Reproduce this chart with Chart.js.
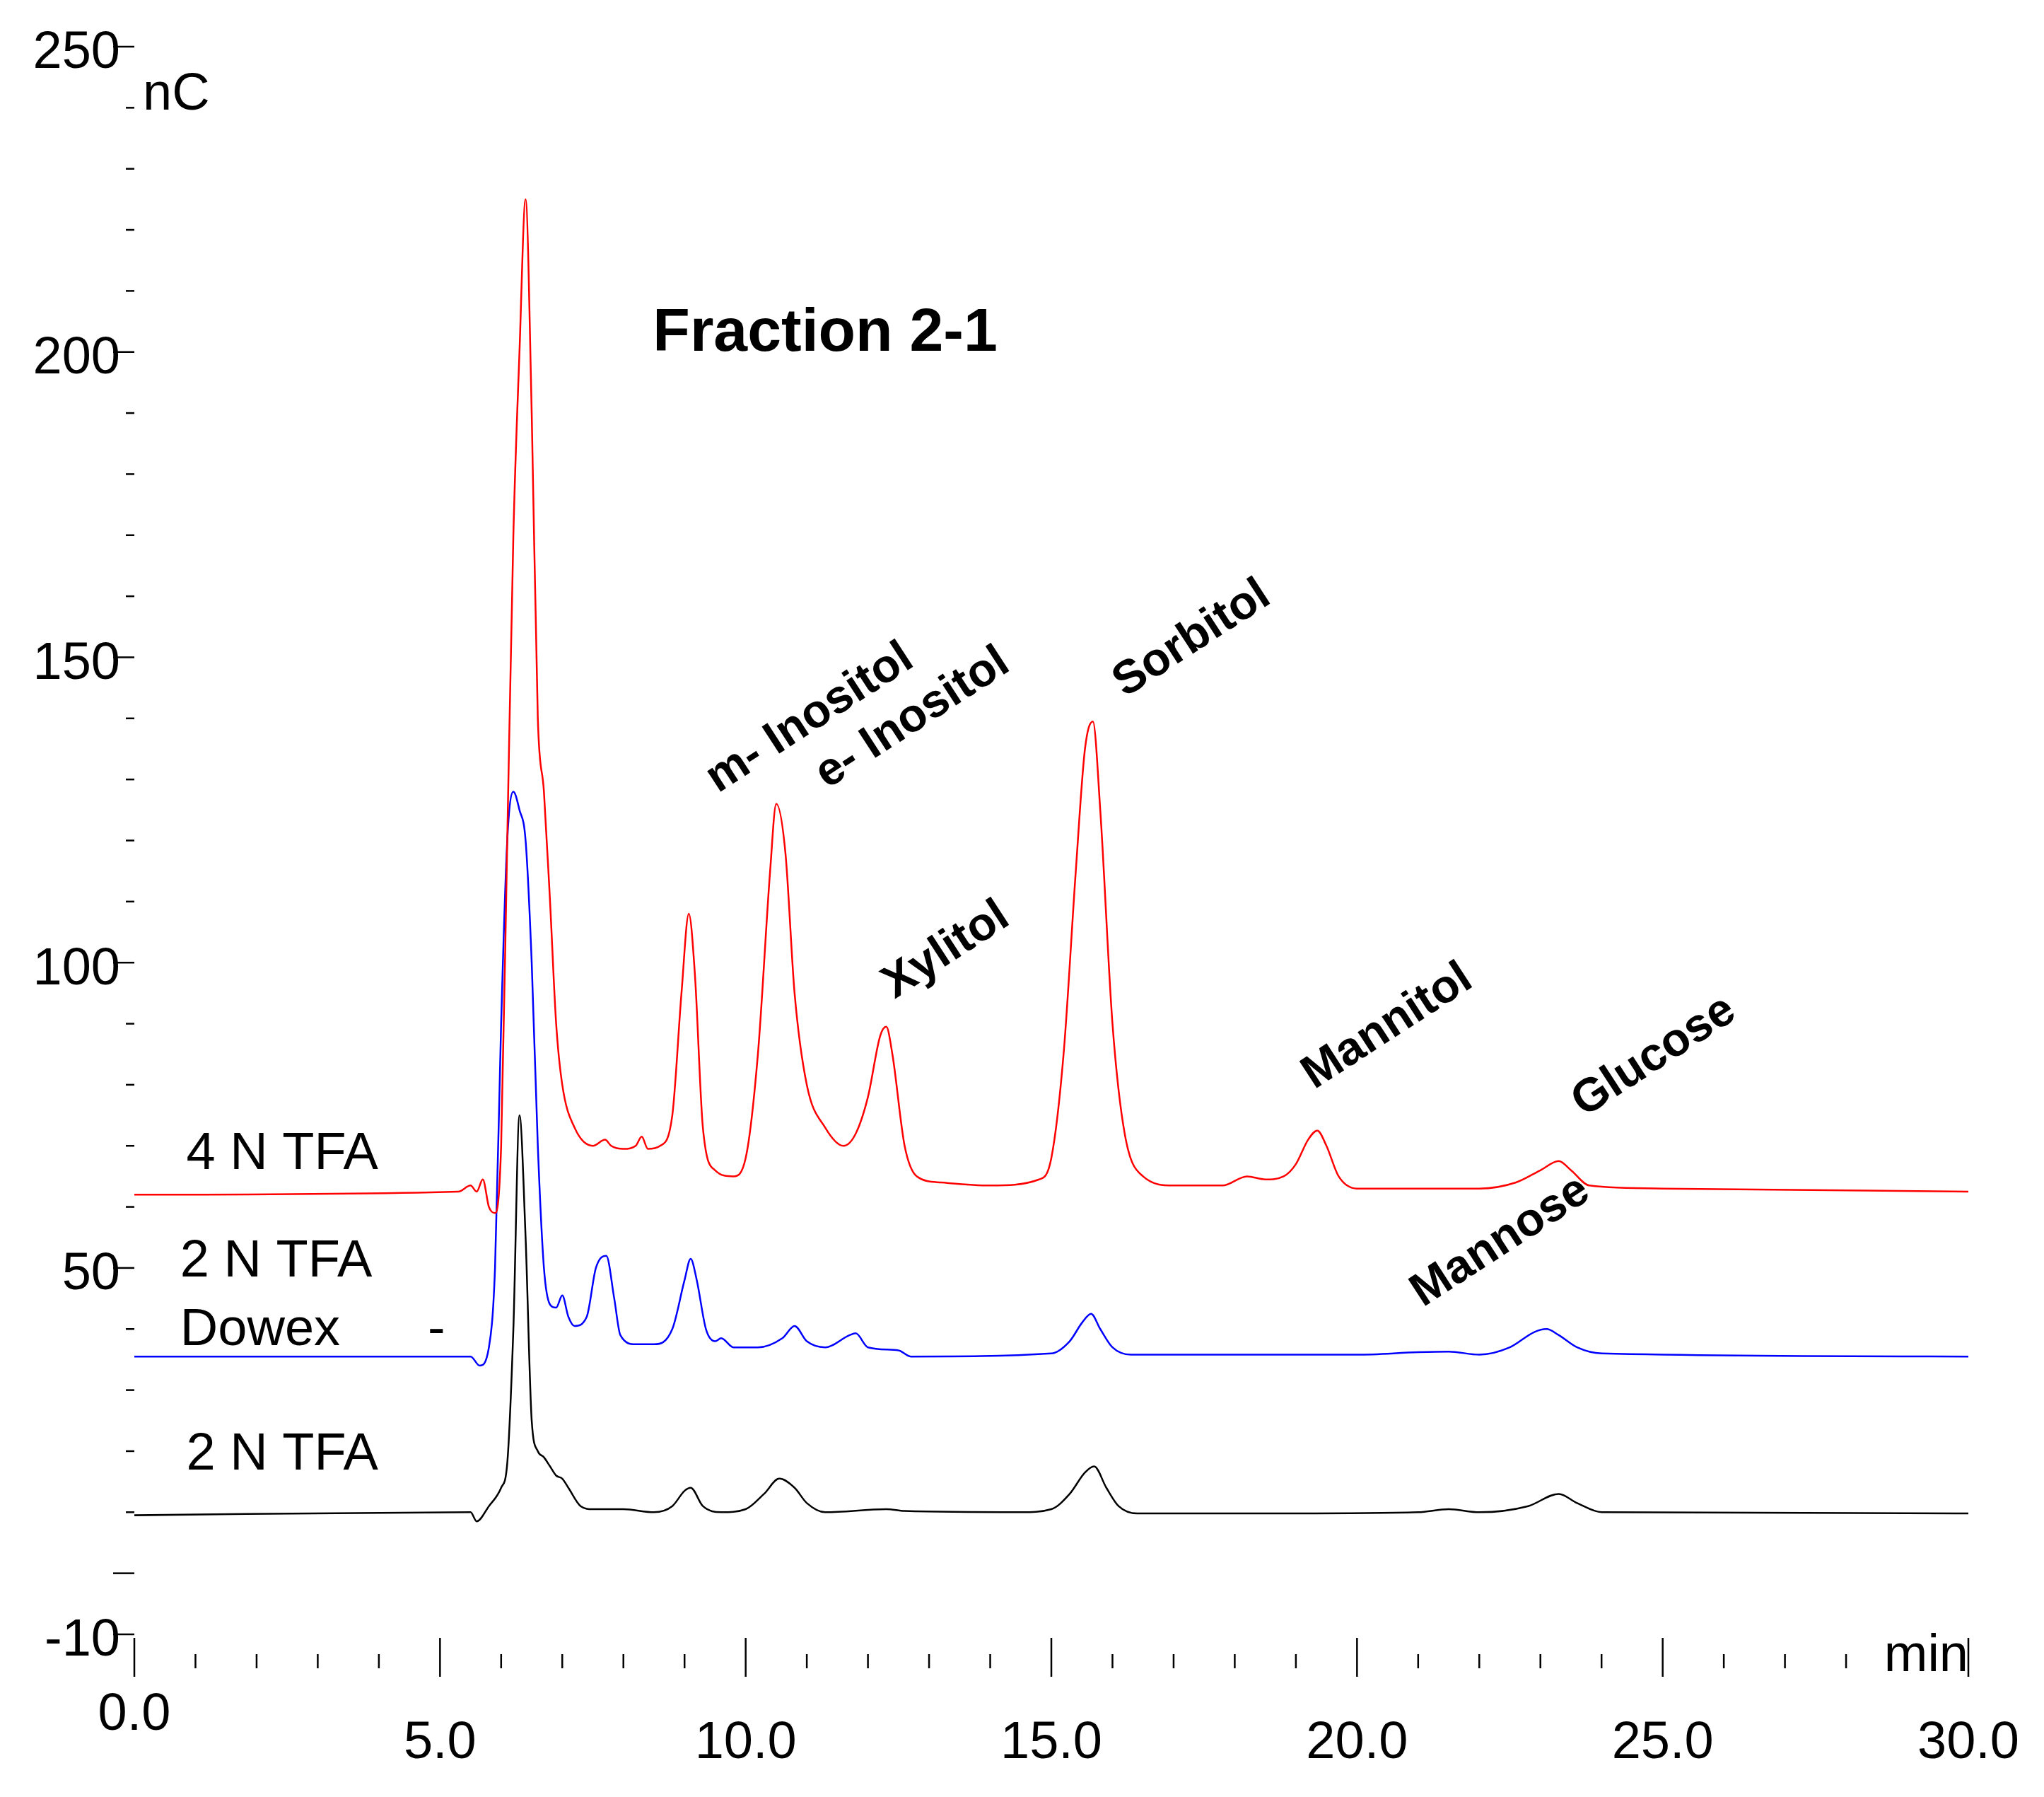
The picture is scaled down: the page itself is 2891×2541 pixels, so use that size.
<!DOCTYPE html>
<html><head><meta charset="utf-8">
<script src="https://cdn.jsdelivr.net/npm/chart.js@4/dist/chart.umd.min.js"></script>
<style>html,body{margin:0;padding:0;background:#fff}#w{width:2891px;height:2541px}</style>
</head><body><div id="w"><canvas id="c"></canvas></div>
<script>
const redX=[0,5.3,5.5,5.6,5.7,5.8,5.9,6.0,6.1,6.2,6.3,6.4,6.5,6.6,6.7,6.8,6.9,7.0,7.2,7.5,7.7,7.8,8.0,8.2,8.3,8.4,8.6,8.8,8.95,9.07,9.17,9.3,9.5,9.8,10.0,10.2,10.4,10.5,10.65,10.8,11.0,11.3,11.6,11.8,12.0,12.2,12.3,12.4,12.6,12.8,13.2,14.0,14.8,15.0,15.2,15.4,15.55,15.68,15.8,16.0,16.2,16.5,17.0,17.8,18.2,18.5,18.8,19.0,19.2,19.35,19.5,19.7,20.0,22.0,22.6,23.0,23.3,23.5,23.8,25.0,30.0];
const redY=[62,62.5,63.5,62.5,64.5,60,59,70,120,170,200,225,190,140,128,110,90,80,73,70,71,70,69.5,70,71.5,69.5,70,75,95,108,98,73,66,65,68,85,115,126,118,95,80,73,70,72,78,88,89.5,85,70,65,64,63.5,64.5,68,85,115,135,139.5,125,90,72,65,63.5,63.5,65,64.5,65,67,71,72.5,70,65,63,63,64,66,67.5,66,63.5,63,62.5];
const blueX=[0,5.5,5.65,5.8,5.9,6.0,6.1,6.2,6.3,6.4,6.5,6.6,6.7,6.8,6.9,7.0,7.1,7.2,7.4,7.55,7.72,7.85,7.95,8.2,8.5,8.8,9.0,9.1,9.2,9.35,9.5,9.6,9.8,10.2,10.6,10.8,11.0,11.3,11.7,11.8,12.0,12.5,12.7,15.0,15.3,15.5,15.65,15.8,16.0,16.3,20.0,21.0,21.5,22.0,22.5,22.9,23.1,23.3,23.6,24.0,30.0];
const blueY=[35.5,35.5,34,37,50,90,120,128,125,120,100,70,50,44,43.5,45.5,42,40.5,42,50,52,45,39,37.5,37.5,40,48,51.5,48,40,38,38.5,37,37,38.5,40.5,38,37,39,39.3,37,36.5,35.5,36,38,41,42.5,40,37,35.8,35.8,36.2,36.3,35.8,37,39.5,40,39,37,36,35.5];
const blackX=[0,5.5,5.6,5.8,6.0,6.1,6.2,6.3,6.4,6.5,6.6,6.7,6.8,6.9,7.0,7.1,7.3,7.5,8.0,8.5,8.8,9.0,9.1,9.3,9.6,10.0,10.3,10.55,10.8,11.0,11.3,12.3,12.6,14.5,15.0,15.3,15.55,15.7,15.9,16.1,16.4,19.0,21.0,21.5,22.0,22.8,23.3,23.6,24.0,30.0];
const blackY=[9.5,10,8.5,11,14,18,40,75,55,25,20,19,17.5,16,15.5,14,11,10.5,10.5,10,11,13.5,14,11,10,10.5,13,15.5,14,11.5,10,10.5,10.2,10,10.5,13,16.5,17.5,14,11,9.8,9.8,10,10.5,10,11,13,11.5,10,9.8];
const yLabels=[250,200,150,100,50,-10];
const xLabels=[0,5,10,15,20,25,30];
const peakNames=["m- Inositol","e- Inositol","Xylitol","Sorbitol","Mannitol","Glucose","Mannose"];
const peakX=[11.05,12.73,13.28,17.3,20.5,24.86,22.35];
const peakY=[140,140,102,153,89.5,84.6,54.3];
const seriesNames=["4 N TFA","2 N TFA","Dowex","2 N TFA"];
const seriesNameX=[0.85,0.75,0.75,0.85];
const seriesNameY=[68.6,51,39.7,19.4];
const pts=(xs,ys)=>xs.map((x,i)=>({x,y:ys[i]}));
const F='"Liberation Sans", Arial, sans-serif';
const deco={id:'deco',afterDraw(ch){
 const c=ch.ctx,xs=ch.scales.x,ys=ch.scales.y;
 const X=v=>xs.getPixelForValue(v),Y=v=>ys.getPixelForValue(v);
 c.save();c.strokeStyle='#000';c.fillStyle='#000';c.lineWidth=2.5;
 const x0=X(0),yb=Y(-10);
 for(let v=-10;v<=250;v+=10){const maj=(v%50===0)||v===-10;c.beginPath();c.moveTo(x0-(maj?30:12),Y(v));c.lineTo(x0,Y(v));c.stroke();}
 for(let v=0;v<=30;v+=1){const maj=v%5===0;c.beginPath();c.moveTo(X(v),yb+(maj?5:28));c.lineTo(X(v),yb+(maj?60:48));c.stroke();}
 c.font='74px '+F;c.textAlign='right';c.textBaseline='middle';
 yLabels.forEach(v=>c.fillText(String(v),x0-20,Y(v)+10));
 c.textAlign='center';c.textBaseline='alphabetic';
 xLabels.forEach(v=>c.fillText(v.toFixed(1),X(v),v===0?yb+135:yb+175));
 c.textAlign='left';c.fillText('nC',x0+12,Y(242.7)+26);
 c.textAlign='right';c.fillText('min',X(30),yb+52);
 seriesNames.forEach((s,i)=>{c.textAlign='left';c.textBaseline='middle';c.fillText(s,X(seriesNameX[i]),Y(seriesNameY[i]));});
 c.fillText('-',X(4.8),Y(39.7));
 c.font='bold 86px '+F;c.textAlign='center';c.fillText('Fraction 2-1',X(11.3),Y(203));
 c.font='bold 66px '+F;
 peakNames.forEach((s,i)=>{c.save();c.translate(X(peakX[i]),Y(peakY[i]));c.rotate(-33*Math.PI/180);c.fillText(s,0,0);c.restore();});
 c.restore();}};
new Chart(document.getElementById('c'),{type:'line',
 data:{datasets:[
  {data:pts(redX,redY),borderColor:'#ff0000'},
  {data:pts(blueX,blueY),borderColor:'#0000ff'},
  {data:pts(blackX,blackY),borderColor:'#000000'}]},
 options:{responsive:true,maintainAspectRatio:false,animation:false,devicePixelRatio:1,
  layout:{padding:{left:190,right:107,top:66,bottom:230}},
  elements:{point:{radius:0},line:{borderWidth:2.5,tension:0.35,cubicInterpolationMode:'monotone'}},
  plugins:{legend:{display:false},tooltip:{enabled:false}},
  scales:{x:{type:'linear',min:0,max:30,display:false},y:{min:-10,max:250,display:false}}},
 plugins:[deco]});
</script></body></html>
